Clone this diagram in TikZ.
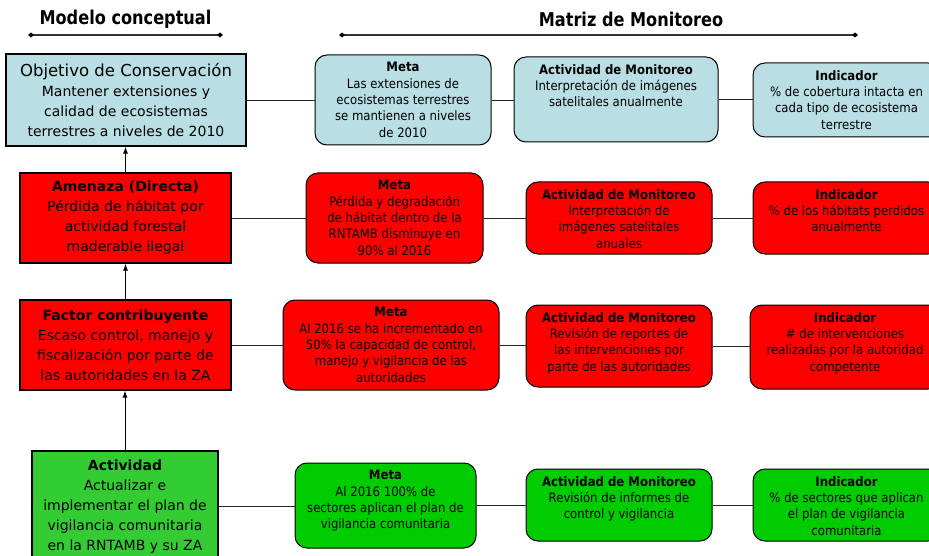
\documentclass[tikz,border=0pt]{standalone}
\usepackage{fontspec}
\setmainfont{DejaVu Sans}
\newfontfamily\condf{DejaVu Sans}[FakeStretch=0.9]
\newfontfamily\hdrf{DejaVu Sans}[FakeStretch=0.85]
\usetikzlibrary{arrows.meta}
\definecolor{lblue}{HTML}{B9DFE4}
\definecolor{myred}{HTML}{FF0000}
\definecolor{lgreen}{HTML}{33CC33}
\definecolor{rgreen}{HTML}{00CC00}
\tikzset{
  rbx/.style={draw=black, line width=1pt, rounded corners=12pt, inner sep=0pt},
  lbx/.style={draw=black, line width=1.2pt, inner sep=0pt, align=center, font=\fontsize{14}{20}\selectfont},
  link/.style={draw=black!85, line width=0.9pt},
  uparrow/.style={draw=black, line width=1pt, -{Latex[length=7pt,width=5pt]}},
  hdr/.style={font=\hdrf\bfseries\fontsize{19}{20}\selectfont, inner sep=0pt},
  hline/.style={draw=black!80, line width=1.2pt, {Diamond[length=6pt,width=5pt,black]}-{Diamond[length=6pt,width=5pt,black]}}
}
\newcommand\rbox[7]{%
  \pgfmathsetlengthmacro\rbw{#5-#3}%
  \pgfmathsetlengthmacro\rbh{#6-#4}%
  \node[rbx, fill=#2, minimum width=\rbw, minimum height=\rbh] (#1) at ({(#3+#5)/2},{(#4+#6)/2})
    {\parbox[c][\rbh][t]{\rbw}{\vspace*{7.5pt}\centering\condf\fontsize{13}{16.3}\selectfont #7}};%
}
\newcommand\lbox[7]{%
  \pgfmathsetlengthmacro\rbw{#5-#3}%
  \pgfmathsetlengthmacro\rbh{#6-#4}%
  \node[lbx, fill=#2, minimum width=\rbw, minimum height=\rbh] (#1) at ({(#3+#5)/2},{(#4+#6)/2}) {#7};%
}
\begin{document}
\begin{tikzpicture}[x=1pt,y=-1pt]
\useasboundingbox (0,0) rectangle (929,556);
\clip (0,0) rectangle (929,556);
\fill[white] (0,0) rectangle (929,556);

% headers
\node[hdr] (h1) at (125.5,19.5) {Modelo conceptual};
\node[hdr] (h2) at (631,19.5) {Matriz de Monitoreo};
\coordinate (h1a) at (28,35);
\coordinate (h1b) at (223,35);
\coordinate (h2a) at (339,35);
\coordinate (h2b) at (858,35);
\draw[hline] (h1a) -- (h1b);
\draw[hline] (h2a) -- (h2b);

% left column
\lbox{b1}{lblue}{6}{54}{246}{146}{{\fontsize{16.5}{20}\selectfont Objetivo de Conservación}\\Mantener extensiones y\\calidad de ecosistemas\\terrestres a niveles de 2010}
\lbox{b2}{myred}{20}{173}{231}{263}{\textbf{Amenaza (Directa)}\\Pérdida de hábitat por\\actividad forestal\\maderable ilegal}
\lbox{b3}{myred}{20}{300}{231}{390}{\textbf{Factor contribuyente}\\Escaso control, manejo y\\fiscalización por parte de\\las autoridades en la ZA}
\lbox{b4}{lgreen}{32}{451}{218}{562}{\textbf{Actividad}\\Actualizar e\\implementar el plan de\\vigilancia comunitaria\\en la RNTAMB y su ZA}

% row 1
\rbox{m1}{lblue}{315}{55}{491}{145}{\textbf{Meta}\\Las extensiones de\\ecosistemas terrestres\\se mantienen a niveles\\de 2010}
\rbox{a1}{lblue}{514}{57}{718}{142}{\textbf{Actividad de Monitoreo}\\Interpretación de imágenes\\satelitales anualmente}
\rbox{i1}{lblue}{753}{63}{940}{137}{\textbf{Indicador}\\\% de cobertura intacta en\\cada tipo de ecosistema\\terrestre}
% row 2
\rbox{m2}{myred}{306}{173}{483}{263}{\textbf{Meta}\\Pérdida y degradación\\de hábitat dentro de la\\RNTAMB disminuye en\\90\% al 2016}
\rbox{a2}{myred}{526}{182}{712}{254}{\textbf{Actividad de Monitoreo}\\Interpretación de\\imágenes satelitales\\anuales}
\rbox{i2}{myred}{753}{182}{940}{254}{\textbf{Indicador}\\\% de los hábitats perdidos\\anualmente}
% row 3
\rbox{m3}{myred}{283}{300}{499}{390}{\textbf{Meta}\\Al 2016 se ha incrementado en\\50\% la capacidad de control,\\manejo y vigilancia de las\\autoridades}
\rbox{a3}{myred}{526}{305}{712}{387}{\textbf{Actividad de Monitoreo}\\Revisión de reportes de\\las intervenciones por\\parte de las autoridades}
\rbox{i3}{myred}{750}{305}{940}{389}{\textbf{Indicador}\\\# de intervenciones\\realizadas por la autoridad\\competente}
% row 4
\rbox{m4}{rgreen}{295}{463}{476}{548}{\textbf{Meta}\\Al 2016 100\% de\\sectores aplican el plan de\\vigilancia comunitaria}
\rbox{a4}{rgreen}{526}{469}{712}{541}{\textbf{Actividad de Monitoreo}\\Revisión de informes de\\control y vigilancia}
\rbox{i4}{rgreen}{753}{469}{940}{541}{\textbf{Indicador}\\\% de sectores que aplican\\el plan de vigilancia\\comunitaria}

% vertical arrows
\draw[uparrow] (b2.north) -- (b2.north |- b1.south);
\draw[uparrow] (b3.north) -- (b3.north |- b2.south);
\draw[uparrow] (b4.north) -- (b4.north |- b3.south);

% horizontal links
\draw[link] (b1.east) -- (b1.east -| m1.west);
\draw[link] (m1.east) -- (m1.east -| a1.west);
\draw[link] (a1.east) -- (a1.east -| i1.west);
\draw[link] (b2.east) -- (b2.east -| m2.west);
\draw[link] (m2.east) -- (m2.east -| a2.west);
\draw[link] (a2.east) -- (a2.east -| i2.west);
\draw[link] (b3.east) -- (b3.east -| m3.west);
\draw[link] (m3.east) -- (m3.east -| a3.west);
\draw[link] (a3.east) -- (a3.east -| i3.west);
\draw[link] (b4.east) -- (b4.east -| m4.west);
\draw[link] (m4.east) -- (m4.east -| a4.west);
\draw[link] (a4.east) -- (a4.east -| i4.west);
\end{tikzpicture}
\end{document}
